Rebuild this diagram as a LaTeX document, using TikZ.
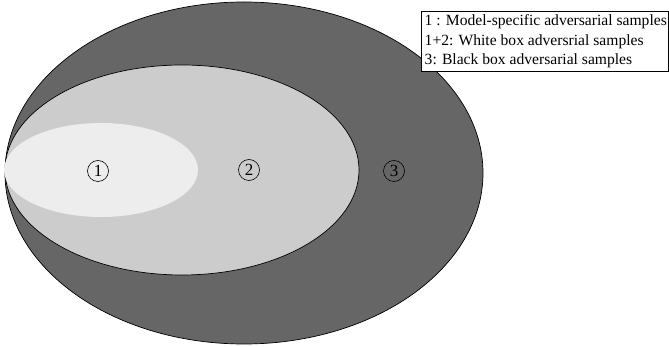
\documentclass[tikz,border=0pt]{standalone}
\usepackage{fontspec}
\setmainfont{Liberation Serif}
\begin{document}
\begin{tikzpicture}[x=1pt,y=-1pt,
  region/.style={draw=black,line width=0.7pt},
  tag/.style={circle,draw=black,line width=0.6pt,inner sep=0pt,minimum size=21pt,font=\fontsize{17}{17}\selectfont},
  legendline/.style={anchor=west,inner sep=0pt,font=\fontsize{15.6}{16}\selectfont}]
  \useasboundingbox (0,0) rectangle (669,347);
  % nested sample sets
  \fill[fill=black!60] (244,173) ellipse [x radius=239,y radius=171];
  \fill[fill=black!20] (182,170) ellipse [x radius=177,y radius=105];
  \draw[region] (244,173) ellipse [x radius=239,y radius=171];
  \draw[region] (182,170) ellipse [x radius=177,y radius=105];
  \fill[fill=black!7] (101,170) ellipse [x radius=97,y radius=47];
  % region labels
  \node[tag] (r1) at (98,171) {1};
  \node[tag] (r2) at (249,170) {2};
  \node[tag] (r3) at (394,171) {3};
  % legend, on a white panel above the sets
  \draw[line width=0.6pt,fill=white] (421,11.5) rectangle (668.7,71);
  \node[legendline] (l1) at (424.5,22) {1 : Model-specific adversarial samples};
  \node[legendline] (l2) at (424.5,42) {1+2: White box adversrial samples};
  \node[legendline] (l3) at (424.5,61) {3: Black box adversarial samples};
\end{tikzpicture}
\end{document}
